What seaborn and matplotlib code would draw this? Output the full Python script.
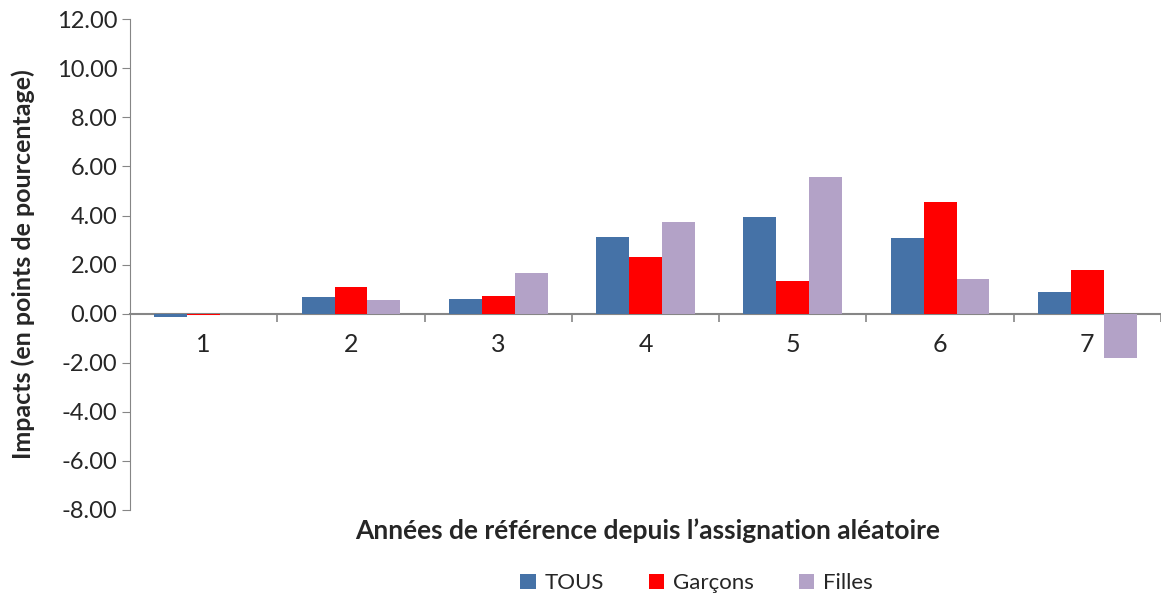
import numpy as np
import pandas as pd
import seaborn as sns
import matplotlib.pyplot as plt
from matplotlib.ticker import FixedLocator, FormatStrFormatter

annees = ['1', '2', '3', '4', '5', '6', '7']
tous = [-0.15, 0.70, 0.58, 3.12, 3.93, 3.08, 0.88]
garcons = [-0.07, 1.08, 0.72, 2.30, 1.33, 4.55, 1.80]
filles = [0.0, 0.54, 1.65, 3.73, 5.56, 1.41, -1.82]
series = ['TOUS', 'Garçons', 'Filles']
couleurs = ['#4572A7', '#FF0000', '#B3A2C7']

df = pd.DataFrame({
    'annee': annees * 3,
    'groupe': np.repeat(series, len(annees)),
    'impact': tous + garcons + filles,
})

sns.set_style('white')
plt.rcParams['font.family'] = ['Lato', 'DejaVu Sans']

fig = plt.figure(figsize=(11.61, 6), dpi=100)
ax = fig.add_axes([0.112, 0.15, 0.888, 0.818])

sns.barplot(
    data=df, x='annee', y='impact', hue='groupe',
    palette=couleurs, width=0.67, saturation=1, ax=ax, legend=True,
    linewidth=0, edgecolor='none', zorder=3
)

ax.set_ylim(-8, 12)
ax.set_xlim(-0.5, 6.5)
ax.set_yticks(np.arange(-8, 12.1, 2))
ax.yaxis.set_major_formatter(FormatStrFormatter('%.2f'))

grey = '#868686'
for s in ['top', 'right']:
    ax.spines[s].set_visible(False)
ax.spines['left'].set_color(grey)
ax.spines['bottom'].set_color(grey)
ax.spines['bottom'].set_position(('data', 0))
ax.spines['bottom'].set_linewidth(1.5)

ax.tick_params(axis='y', left=True, length=6, color=grey, labelsize=17, pad=3)
ax.tick_params(axis='x', which='major', length=0, labelsize=18, pad=14)
ax.xaxis.set_minor_locator(FixedLocator(np.arange(0.5, 6.6, 1)))
ax.tick_params(axis='x', which='minor', bottom=True, length=6, color=grey, width=1.2)

ax.set_ylabel('Impacts (en points de pourcentage)', fontsize=18, fontweight='bold', labelpad=16)
ax.set_xlabel('')
fig.text(0.558, 0.115, 'Années de référence depuis l\u2019assignation aléatoire',
         ha='center', va='center', fontsize=19, fontweight='bold')

handles, labels = ax.get_legend_handles_labels()
ax.get_legend().remove()
fig.legend(handles, labels, loc='center', bbox_to_anchor=(0.6, 0.028), ncol=3,
           frameon=False, fontsize=16, handlelength=0.7, handleheight=0.7,
           columnspacing=2.0, handletextpad=0.4)

fig.savefig('out.png', dpi=100)
